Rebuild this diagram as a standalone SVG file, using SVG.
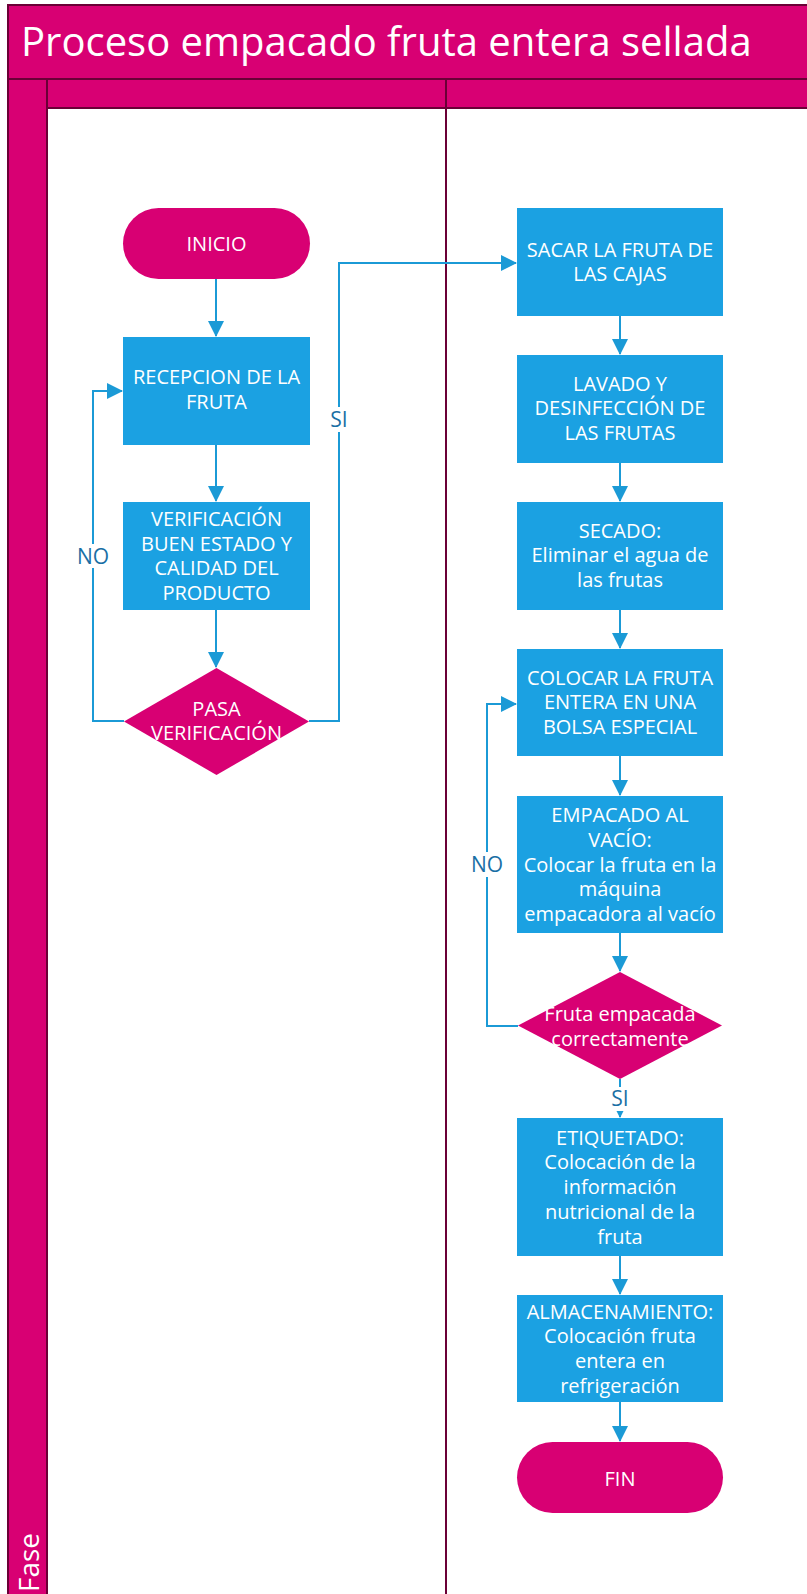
<svg xmlns="http://www.w3.org/2000/svg" width="807" height="1594" viewBox="0 0 807 1594">
<style>
.band{fill:#D80073;stroke:#6B0036;stroke-width:2}
.lane{fill:#FFFFFF;stroke:#6B0036;stroke-width:2}
.proc{fill:#1BA1E2}
.term{fill:#D80073}
.dec{fill:#D80073}
.t{font-family:"Open Sans","Noto Sans",sans-serif;font-size:20px;fill:#FFFFFF;text-anchor:middle}
.title{font-family:"Open Sans","Noto Sans",sans-serif;font-size:40px;fill:#FFFFFF}
.conn{fill:none;stroke:#1B9AD6;stroke-width:2;marker-end:url(#ah)}
.lbl{font-family:"Open Sans","Noto Sans",sans-serif;font-size:21px;fill:#1A6FA5;text-anchor:middle}
.lblbg{fill:#FFFFFF}
</style>
<defs>
<marker id="ah" markerUnits="userSpaceOnUse" markerWidth="16" markerHeight="16" refX="15" refY="8" orient="auto">
<path d="M0,0 L16,8 L0,16 z" fill="#1B9AD6"/>
</marker>
</defs>
<g id="pool">
<rect class="band" x="8" y="5" width="810" height="1600"/>
<rect class="band" x="8" y="5" width="810" height="74"/>
<text class="title" x="21" y="56">Proceso empacado fruta entera sellada</text>
<rect class="band" x="8" y="79" width="39" height="1530"/>
<text class="title" style="font-size:28px" transform="translate(39,1592) rotate(-90)">Fase</text>
<rect class="band" x="47" y="79" width="399" height="29"/>
<rect class="band" x="446" y="79" width="380" height="29"/>
<rect class="lane" x="47" y="108" width="399" height="1500"/>
<rect class="lane" x="446" y="108" width="380" height="1500"/>
</g>
<g id="connectors">
<line class="conn" x1="216" y1="279" x2="216" y2="336"/>
<line class="conn" x1="216" y1="445" x2="216" y2="501"/>
<line class="conn" x1="216" y1="610" x2="216" y2="667"/>
<polyline class="conn" points="124,721 93,721 93,391 122,391"/>
<polyline class="conn" points="309,721 339,721 339,263 516,263"/>
<line class="conn" x1="620" y1="316" x2="620" y2="354"/>
<line class="conn" x1="620" y1="463" x2="620" y2="501"/>
<line class="conn" x1="620" y1="610" x2="620" y2="648"/>
<line class="conn" x1="620" y1="756" x2="620" y2="795"/>
<line class="conn" x1="620" y1="933" x2="620" y2="971"/>
<polyline class="conn" points="518,1026 487,1026 487,704 516,704"/>
<line class="conn" x1="620" y1="1079" x2="620" y2="1117"/>
<line class="conn" x1="620" y1="1256" x2="620" y2="1294"/>
<line class="conn" x1="620" y1="1402" x2="620" y2="1441"/>
<rect class="lblbg" x="76" y="544" width="34" height="24"/>
<text class="lbl" x="93" y="564">NO</text>
<rect class="lblbg" x="328" y="407" width="22" height="25"/>
<text class="lbl" x="339" y="427">SI</text>
<rect class="lblbg" x="470" y="852" width="34" height="25"/>
<text class="lbl" x="487" y="872">NO</text>
<rect class="lblbg" x="607" y="1087" width="26" height="24"/>
<text class="lbl" x="620" y="1106">SI</text>
</g>
<g id="inicio">
<rect class="term" x="123" y="208" width="187" height="71" rx="35.5"/>
<text class="t" x="216.5" y="251">INICIO</text>
</g>
<g id="recepcion">
<rect class="proc" x="123" y="337" width="187" height="108"/>
<text class="t" x="216.5" y="384">RECEPCION DE LA</text>
<text class="t" x="216.5" y="409">FRUTA</text>
</g>
<g id="verificacion">
<rect class="proc" x="123" y="502" width="187" height="108"/>
<text class="t" x="216.5" y="526">VERIFICACIÓN</text>
<text class="t" x="216.5" y="551">BUEN ESTADO Y</text>
<text class="t" x="216.5" y="575">CALIDAD DEL</text>
<text class="t" x="216.5" y="600">PRODUCTO</text>
</g>
<g id="pasa">
<polygon class="dec" points="216.5,668 309,721.5 216.5,775 124,721.5"/>
<text class="t" x="216.5" y="716">PASA</text>
<text class="t" x="216.5" y="740">VERIFICACIÓN</text>
</g>
<g id="sacar">
<rect class="proc" x="517" y="208" width="206" height="108"/>
<text class="t" x="620" y="257">SACAR LA FRUTA DE</text>
<text class="t" x="620" y="281">LAS CAJAS</text>
</g>
<g id="lavado">
<rect class="proc" x="517" y="355" width="206" height="108"/>
<text class="t" x="620" y="391">LAVADO Y</text>
<text class="t" x="620" y="415">DESINFECCIÓN DE</text>
<text class="t" x="620" y="440">LAS FRUTAS</text>
</g>
<g id="secado">
<rect class="proc" x="517" y="502" width="206" height="108"/>
<text class="t" x="620" y="538">SECADO:</text>
<text class="t" x="620" y="562">Eliminar el agua de</text>
<text class="t" x="620" y="587">las frutas</text>
</g>
<g id="colocar">
<rect class="proc" x="517" y="649" width="206" height="107"/>
<text class="t" x="620" y="685">COLOCAR LA FRUTA</text>
<text class="t" x="620" y="709">ENTERA EN UNA</text>
<text class="t" x="620" y="734">BOLSA ESPECIAL</text>
</g>
<g id="empacado">
<rect class="proc" x="517" y="796" width="206" height="137"/>
<text class="t" x="620" y="822">EMPACADO AL</text>
<text class="t" x="620" y="847">VACÍO:</text>
<text class="t" x="620" y="872">Colocar la fruta en la</text>
<text class="t" x="620" y="896">máquina</text>
<text class="t" x="620" y="921">empacadora al vacío</text>
</g>
<g id="fruta-empacada">
<polygon class="dec" points="620,972 722,1025.5 620,1079 518,1025.5"/>
<text class="t" x="620" y="1021">Fruta empacada</text>
<text class="t" x="620" y="1046">correctamente</text>
</g>
<g id="etiquetado">
<rect class="proc" x="517" y="1118" width="206" height="138"/>
<text class="t" x="620" y="1145">ETIQUETADO:</text>
<text class="t" x="620" y="1169">Colocación de la</text>
<text class="t" x="620" y="1194">información</text>
<text class="t" x="620" y="1219">nutricional de la</text>
<text class="t" x="620" y="1244">fruta</text>
</g>
<g id="almacenamiento">
<rect class="proc" x="517" y="1295" width="206" height="107"/>
<text class="t" x="620" y="1319">ALMACENAMIENTO:</text>
<text class="t" x="620" y="1343">Colocación fruta</text>
<text class="t" x="620" y="1368">entera en</text>
<text class="t" x="620" y="1393">refrigeración</text>
</g>
<g id="fin">
<rect class="term" x="517" y="1442" width="206" height="71" rx="35.5"/>
<text class="t" x="620" y="1486">FIN</text>
</g>
</svg>
